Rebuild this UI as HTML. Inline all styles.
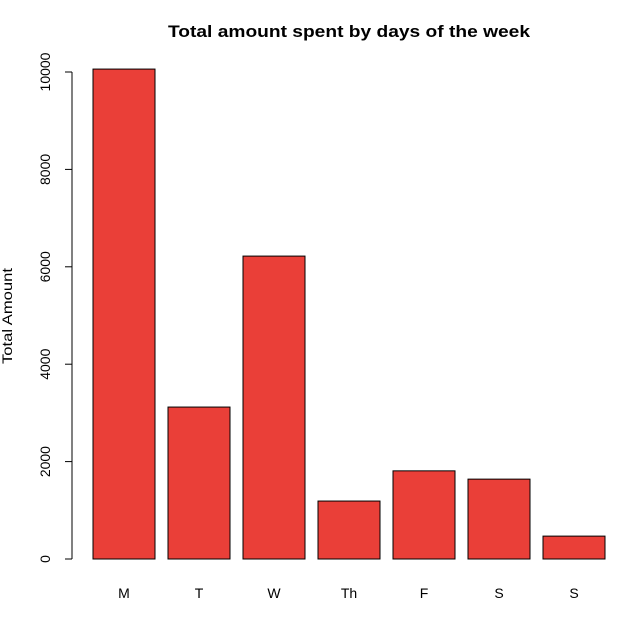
<!DOCTYPE html>
<html><head><meta charset="utf-8"><style>
body{margin:0;background:#fff;}
svg text{font-family:"Liberation Sans",Arial,sans-serif;}
</style></head><body>
<svg width="642" height="622" xmlns="http://www.w3.org/2000/svg">
<text x="349" y="37" text-anchor="middle" font-size="17" font-weight="bold" textLength="362" lengthAdjust="spacingAndGlyphs">Total amount spent by days of the week</text>
<text transform="translate(12,316) rotate(-90)" text-anchor="middle" font-size="14" textLength="96" lengthAdjust="spacingAndGlyphs">Total Amount</text>
<g id="axis"></g>
<g id="bars"></g>
</svg>
<script>
const categories=["M","T","W","Th","F","S","S"];
const values=[10060,3120,6220,1190,1810,1640,470];
const ticks=[0,2000,4000,6000,8000,10000];
const NS="http://www.w3.org/2000/svg";
const y=v=>559-v*0.0487;
const x=i=>93+i*75;
const bars=document.getElementById('bars'),axis=document.getElementById('axis');
function mk(t,a,p){const e=document.createElementNS(NS,t);for(const k in a)e.setAttribute(k,a[k]);p.appendChild(e);return e;}
values.forEach((v,i)=>{
 const r=mk('rect',{x:x(i),y:y(v),width:62,height:559-y(v),fill:'#EA3F38',stroke:'#000','stroke-width':1},bars);
 
 
 const t=mk('text',{x:x(i)+31,y:598,'text-anchor':'middle','font-size':14},bars);
 t.textContent=categories[i];
 
 
});
mk('line',{x1:72,x2:72,y1:y(0),y2:y(10000),stroke:'#000'},axis);
ticks.forEach(v=>{
 mk('line',{x1:65,x2:72,y1:y(v),y2:y(v),stroke:'#000'},axis);
 const t=mk('text',{transform:`translate(50,${y(v)}) rotate(-90)`,'text-anchor':'middle','font-size':14},axis);
 t.textContent=v;
 
 
});
</script>
</body></html>
